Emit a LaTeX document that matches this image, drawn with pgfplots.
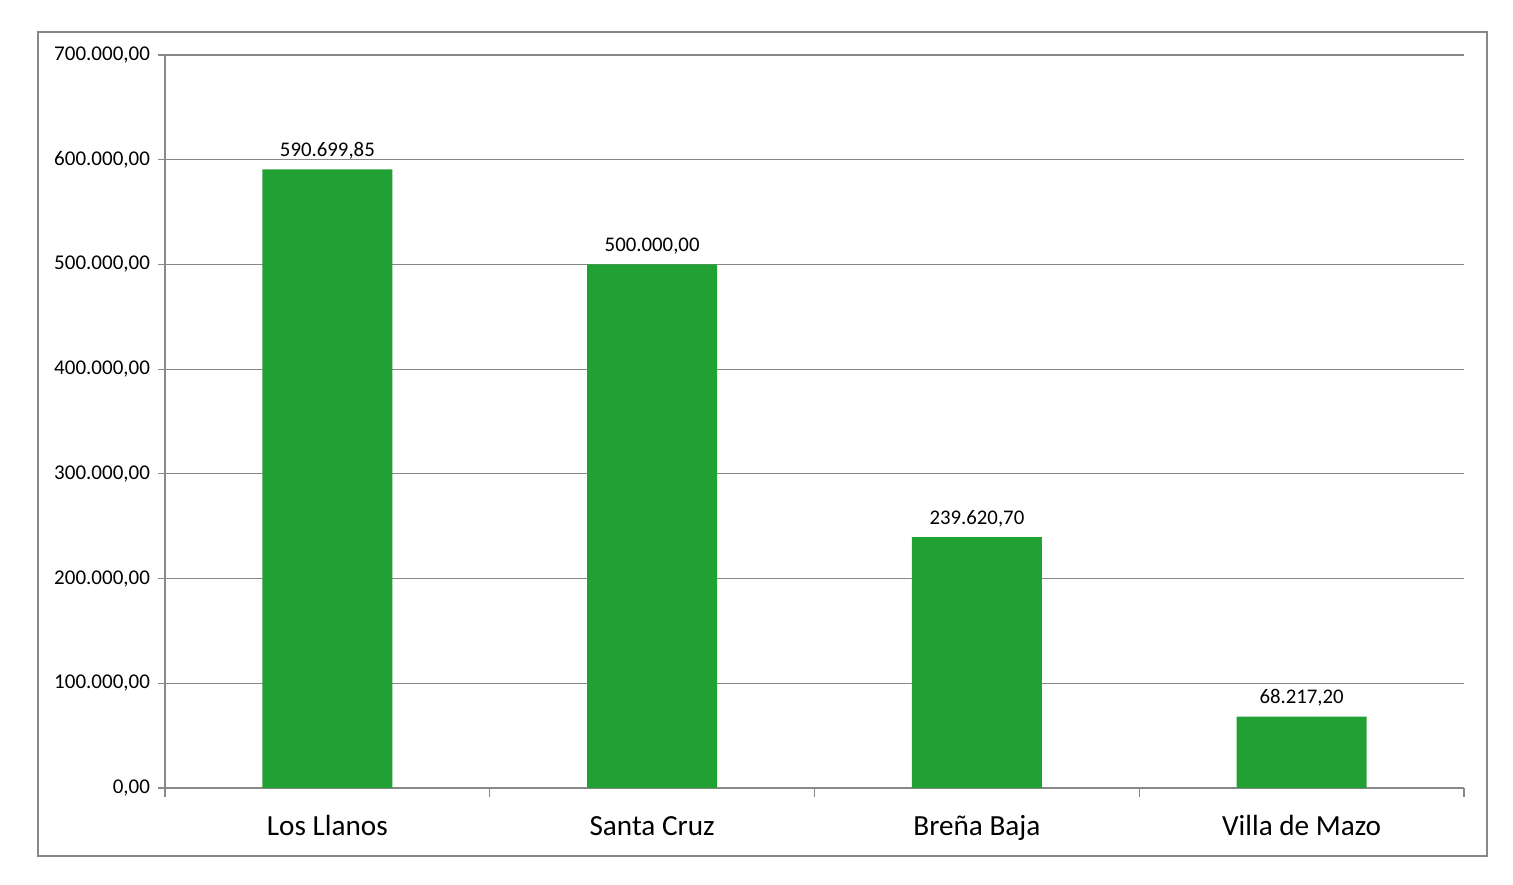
\documentclass[border=0pt]{standalone}
\usepackage{pgfplots}
\pgfplotsset{compat=1.18}
\usepackage{fontspec}
\setmainfont{Carlito}
\definecolor{bargreen}{HTML}{21A133}
\definecolor{gridgray}{HTML}{888888}
\begin{document}
\begin{tikzpicture}
% page: 1513x884 px at 0.5pt per px
\path[fill=white] (0,0) rectangle (756.5pt,442pt);
\draw[gridgray, line width=0.7pt] (19pt,14pt) rectangle (743.5pt,426pt);
\begin{axis}[
    at={(82.5pt,48pt)}, anchor=south west,
    scale only axis,
    width=649.5pt, height=366.5pt,
    xmin=-0.5, xmax=3.5,
    ymin=0, ymax=700000,
    axis x line*=bottom, axis y line*=left,
    axis line style={gridgray, line width=0.6pt},
    ytick={0,100000,...,700000},
    ymajorgrids,
    major grid style={gridgray, line width=0.6pt},
    tick style={gridgray, line width=0.6pt},
    tick align=outside,
    major tick length=3.5pt,
    xtick={0,1,2,3},
    xticklabels={Los Llanos, Santa Cruz, Breña Baja, Villa de Mazo},
    x tick style={draw=none},
    minor xtick={-0.5,0.5,1.5,2.5,3.5},
    minor x tick style={draw=gridgray, line width=0.6pt},
    minor tick length=4.5pt,
    xticklabel style={font=\fontsize{14.6}{16}\selectfont, text height=0.7em, text depth=0.25em, yshift=-9.5pt},
    yticklabel style={font=\fontsize{10.5}{12}\selectfont, xshift=-0.5pt},
    scaled y ticks=false,
    /pgf/number format/.cd, fixed, fixed zerofill, precision=2, use comma, 1000 sep={.}, assume math mode=true,
    /pgfplots/.cd,
    ybar, bar width=65pt,
    nodes near coords,
    nodes near coords style={font=\fontsize{10.4}{12}\selectfont, yshift=1.5pt,
      /pgf/number format/.cd, fixed, fixed zerofill, precision=2, use comma, 1000 sep={.}, assume math mode=true},
]
\addplot[fill=bargreen, draw=none] coordinates {(0,590699.85) (1,500000) (2,239620.70) (3,68217.20)};
\end{axis}
\end{tikzpicture}
\end{document}
